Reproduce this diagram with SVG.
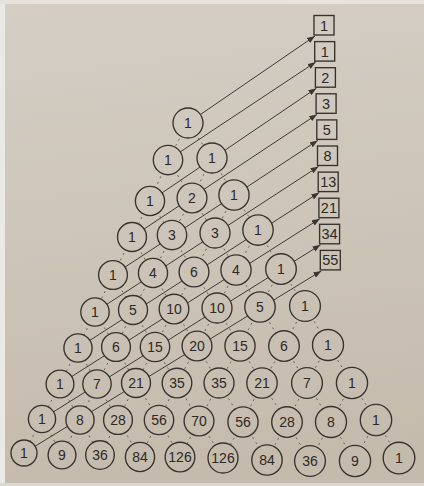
<svg xmlns="http://www.w3.org/2000/svg" width="424" height="486" viewBox="0 0 424 486">
<defs>
<linearGradient id="paper" gradientUnits="userSpaceOnUse" x1="0" y1="0" x2="60" y2="486">
<stop offset="0" stop-color="#d4cec5"/>
<stop offset="0.5" stop-color="#cdc5b9"/>
<stop offset="1" stop-color="#c5bbad"/>
</linearGradient>
<marker id="ah" markerUnits="userSpaceOnUse" markerWidth="9" markerHeight="6" refX="8" refY="3" orient="auto">
<path d="M0,0 L8,3 L0,6 z" fill="#3b3631"/>
</marker>
<style>
.c{fill:url(#paper);stroke:#37322d;stroke-width:1.35}
.b{fill:url(#paper);stroke:#37322d;stroke-width:1.35}
.t{font-family:"Liberation Sans",Arial,sans-serif;font-size:14px;fill:#2e2925;text-anchor:middle}
.s{font-size:14.5px}
.d{stroke:#645d54;stroke-width:0.95;stroke-dasharray:2 4;fill:none}
.a{stroke:#3f3a34;stroke-width:1;fill:none;marker-end:url(#ah)}
</style>
</defs>
<rect x="0" y="0" width="424" height="486" fill="url(#paper)"/>
<rect x="0" y="0" width="5" height="486" fill="#ebe9e5"/>
<rect x="0" y="0" width="424" height="4" fill="#e6e3de"/>
<rect x="0" y="483" width="424" height="3" fill="#dcd8d1"/>
<g id="connectors">
<g id="dashes">
<line class="d" x1="188" y1="123" x2="168" y2="160"/><line class="d" x1="188" y1="123" x2="212" y2="158"/>
<line class="d" x1="168" y1="160" x2="150" y2="201"/><line class="d" x1="168" y1="160" x2="192" y2="198"/>
<line class="d" x1="212" y1="158" x2="192" y2="198"/><line class="d" x1="212" y1="158" x2="234" y2="195"/>
<line class="d" x1="150" y1="201" x2="132" y2="237"/><line class="d" x1="150" y1="201" x2="172" y2="235"/>
<line class="d" x1="192" y1="198" x2="172" y2="235"/><line class="d" x1="192" y1="198" x2="215" y2="233"/>
<line class="d" x1="234" y1="195" x2="215" y2="233"/><line class="d" x1="234" y1="195" x2="258" y2="230"/>
<line class="d" x1="132" y1="237" x2="113" y2="275"/><line class="d" x1="132" y1="237" x2="153" y2="273"/>
<line class="d" x1="172" y1="235" x2="153" y2="273"/><line class="d" x1="172" y1="235" x2="194" y2="272"/>
<line class="d" x1="215" y1="233" x2="194" y2="272"/><line class="d" x1="215" y1="233" x2="236" y2="270"/>
<line class="d" x1="258" y1="230" x2="236" y2="270"/><line class="d" x1="258" y1="230" x2="281" y2="269"/>
<line class="d" x1="113" y1="275" x2="95" y2="312"/><line class="d" x1="113" y1="275" x2="133" y2="310"/>
<line class="d" x1="153" y1="273" x2="133" y2="310"/><line class="d" x1="153" y1="273" x2="174" y2="309"/>
<line class="d" x1="194" y1="272" x2="174" y2="309"/><line class="d" x1="194" y1="272" x2="217" y2="308"/>
<line class="d" x1="236" y1="270" x2="217" y2="308"/><line class="d" x1="236" y1="270" x2="260" y2="307"/>
<line class="d" x1="281" y1="269" x2="260" y2="307"/><line class="d" x1="281" y1="269" x2="305" y2="306"/>
<line class="d" x1="95" y1="312" x2="78" y2="348"/><line class="d" x1="95" y1="312" x2="116" y2="347"/>
<line class="d" x1="133" y1="310" x2="116" y2="347"/><line class="d" x1="133" y1="310" x2="155" y2="347"/>
<line class="d" x1="174" y1="309" x2="155" y2="347"/><line class="d" x1="174" y1="309" x2="197" y2="346"/>
<line class="d" x1="217" y1="308" x2="197" y2="346"/><line class="d" x1="217" y1="308" x2="240" y2="346"/>
<line class="d" x1="260" y1="307" x2="240" y2="346"/><line class="d" x1="260" y1="307" x2="284" y2="346"/>
<line class="d" x1="305" y1="306" x2="284" y2="346"/><line class="d" x1="305" y1="306" x2="328" y2="345"/>
<line class="d" x1="78" y1="348" x2="60" y2="384"/><line class="d" x1="78" y1="348" x2="97" y2="384"/>
<line class="d" x1="116" y1="347" x2="97" y2="384"/><line class="d" x1="116" y1="347" x2="136" y2="383"/>
<line class="d" x1="155" y1="347" x2="136" y2="383"/><line class="d" x1="155" y1="347" x2="177" y2="383"/>
<line class="d" x1="197" y1="346" x2="177" y2="383"/><line class="d" x1="197" y1="346" x2="219" y2="383"/>
<line class="d" x1="240" y1="346" x2="219" y2="383"/><line class="d" x1="240" y1="346" x2="262" y2="383"/>
<line class="d" x1="284" y1="346" x2="262" y2="383"/><line class="d" x1="284" y1="346" x2="307" y2="383"/>
<line class="d" x1="328" y1="345" x2="307" y2="383"/><line class="d" x1="328" y1="345" x2="352" y2="383"/>
<line class="d" x1="60" y1="384" x2="42" y2="419"/><line class="d" x1="60" y1="384" x2="80" y2="420"/>
<line class="d" x1="97" y1="384" x2="80" y2="420"/><line class="d" x1="97" y1="384" x2="118" y2="420"/>
<line class="d" x1="136" y1="383" x2="118" y2="420"/><line class="d" x1="136" y1="383" x2="159" y2="420"/>
<line class="d" x1="177" y1="383" x2="159" y2="420"/><line class="d" x1="177" y1="383" x2="199" y2="421"/>
<line class="d" x1="219" y1="383" x2="199" y2="421"/><line class="d" x1="219" y1="383" x2="243" y2="422"/>
<line class="d" x1="262" y1="383" x2="243" y2="422"/><line class="d" x1="262" y1="383" x2="287" y2="422"/>
<line class="d" x1="307" y1="383" x2="287" y2="422"/><line class="d" x1="307" y1="383" x2="331" y2="422"/>
<line class="d" x1="352" y1="383" x2="331" y2="422"/><line class="d" x1="352" y1="383" x2="376" y2="420"/>
<line class="d" x1="42" y1="419" x2="24" y2="453"/><line class="d" x1="42" y1="419" x2="62" y2="455"/>
<line class="d" x1="80" y1="420" x2="62" y2="455"/><line class="d" x1="80" y1="420" x2="100" y2="455"/>
<line class="d" x1="118" y1="420" x2="100" y2="455"/><line class="d" x1="118" y1="420" x2="140" y2="457"/>
<line class="d" x1="159" y1="420" x2="140" y2="457"/><line class="d" x1="159" y1="420" x2="180" y2="457"/>
<line class="d" x1="199" y1="421" x2="180" y2="457"/><line class="d" x1="199" y1="421" x2="223" y2="458"/>
<line class="d" x1="243" y1="422" x2="223" y2="458"/><line class="d" x1="243" y1="422" x2="267" y2="460"/>
<line class="d" x1="287" y1="422" x2="267" y2="460"/><line class="d" x1="287" y1="422" x2="310" y2="461"/>
<line class="d" x1="331" y1="422" x2="310" y2="461"/><line class="d" x1="331" y1="422" x2="355" y2="461"/>
<line class="d" x1="376" y1="420" x2="355" y2="461"/><line class="d" x1="376" y1="420" x2="399" y2="458"/>
</g>
<g id="diagonals">
<line class="a" x1="188" y1="123" x2="315" y2="36"/>
<line class="a" x1="168" y1="160" x2="315.7" y2="62.1"/>
<line class="a" x1="150" y1="201" x2="316.4" y2="88.2"/>
<line class="a" x1="132" y1="237" x2="317.1" y2="114.3"/>
<line class="a" x1="113" y1="275" x2="317.8" y2="140.4"/>
<line class="a" x1="95" y1="312" x2="318.5" y2="166.5"/>
<line class="a" x1="78" y1="348" x2="319.2" y2="192.6"/>
<line class="a" x1="60" y1="384" x2="319.9" y2="218.7"/>
<line class="a" x1="42" y1="419" x2="320.6" y2="244.8"/>
<line class="a" x1="24" y1="453" x2="321.3" y2="270.9"/>
</g>
</g>
<g id="triangle">
<g id="n0-0"><circle class="c" cx="188" cy="123" r="15"/><text class="t" x="188" y="128">1</text></g>
<g id="n1-0"><circle class="c" cx="168" cy="160" r="14.7"/><text class="t" x="168" y="165">1</text></g>
<g id="n1-1"><circle class="c" cx="212" cy="158" r="15"/><text class="t" x="212" y="163">1</text></g>
<g id="n2-0"><circle class="c" cx="150" cy="201" r="14.6"/><text class="t" x="150" y="206">1</text></g>
<g id="n2-1"><circle class="c" cx="192" cy="198" r="14.9"/><text class="t" x="192" y="203">2</text></g>
<g id="n2-2"><circle class="c" cx="234" cy="195" r="15.1"/><text class="t" x="234" y="200">1</text></g>
<g id="n3-0"><circle class="c" cx="132" cy="237" r="14.5"/><text class="t" x="132" y="242">1</text></g>
<g id="n3-1"><circle class="c" cx="172" cy="235" r="14.7"/><text class="t" x="172" y="240">3</text></g>
<g id="n3-2"><circle class="c" cx="215" cy="233" r="15"/><text class="t" x="215" y="238">3</text></g>
<g id="n3-3"><circle class="c" cx="258" cy="230" r="15.2"/><text class="t" x="258" y="235">1</text></g>
<g id="n4-0"><circle class="c" cx="113" cy="275" r="14.4"/><text class="t" x="113" y="280">1</text></g>
<g id="n4-1"><circle class="c" cx="153" cy="273" r="14.6"/><text class="t" x="153" y="278">4</text></g>
<g id="n4-2"><circle class="c" cx="194" cy="272" r="14.9"/><text class="t" x="194" y="277">6</text></g>
<g id="n4-3"><circle class="c" cx="236" cy="270" r="15.1"/><text class="t" x="236" y="275">4</text></g>
<g id="n4-4"><circle class="c" cx="281" cy="269" r="15.3"/><text class="t" x="281" y="274">1</text></g>
<g id="n5-0"><circle class="c" cx="95" cy="312" r="14.2"/><text class="t" x="95" y="317">1</text></g>
<g id="n5-1"><circle class="c" cx="133" cy="310" r="14.5"/><text class="t" x="133" y="315">5</text></g>
<g id="n5-2"><circle class="c" cx="174" cy="309" r="14.8"/><text class="t" x="174" y="314">10</text></g>
<g id="n5-3"><circle class="c" cx="217" cy="308" r="15"/><text class="t" x="217" y="313">10</text></g>
<g id="n5-4"><circle class="c" cx="260" cy="307" r="15.2"/><text class="t" x="260" y="312">5</text></g>
<g id="n5-5"><circle class="c" cx="305" cy="306" r="15.4"/><text class="t" x="305" y="311">1</text></g>
<g id="n6-0"><circle class="c" cx="78" cy="348" r="14.1"/><text class="t" x="78" y="353">1</text></g>
<g id="n6-1"><circle class="c" cx="116" cy="347" r="14.4"/><text class="t" x="116" y="352">6</text></g>
<g id="n6-2"><circle class="c" cx="155" cy="347" r="14.7"/><text class="t" x="155" y="352">15</text></g>
<g id="n6-3"><circle class="c" cx="197" cy="346" r="14.9"/><text class="t" x="197" y="351">20</text></g>
<g id="n6-4"><circle class="c" cx="240" cy="346" r="15.1"/><text class="t" x="240" y="351">15</text></g>
<g id="n6-5"><circle class="c" cx="284" cy="346" r="15.3"/><text class="t" x="284" y="351">6</text></g>
<g id="n6-6"><circle class="c" cx="328" cy="345" r="15.5"/><text class="t" x="328" y="350">1</text></g>
<g id="n7-0"><circle class="c" cx="60" cy="384" r="13.9"/><text class="t" x="60" y="389">1</text></g>
<g id="n7-1"><circle class="c" cx="97" cy="384" r="14.2"/><text class="t" x="97" y="389">7</text></g>
<g id="n7-2"><circle class="c" cx="136" cy="383" r="14.5"/><text class="t" x="136" y="388">21</text></g>
<g id="n7-3"><circle class="c" cx="177" cy="383" r="14.8"/><text class="t" x="177" y="388">35</text></g>
<g id="n7-4"><circle class="c" cx="219" cy="383" r="15"/><text class="t" x="219" y="388">35</text></g>
<g id="n7-5"><circle class="c" cx="262" cy="383" r="15.2"/><text class="t" x="262" y="388">21</text></g>
<g id="n7-6"><circle class="c" cx="307" cy="383" r="15.4"/><text class="t" x="307" y="388">7</text></g>
<g id="n7-7"><circle class="c" cx="352" cy="383" r="15.6"/><text class="t" x="352" y="388">1</text></g>
<g id="n8-0"><circle class="c" cx="42" cy="419" r="13.6"/><text class="t" x="42" y="424">1</text></g>
<g id="n8-1"><circle class="c" cx="80" cy="420" r="14.1"/><text class="t" x="80" y="425">8</text></g>
<g id="n8-2"><circle class="c" cx="118" cy="420" r="14.4"/><text class="t" x="118" y="425">28</text></g>
<g id="n8-3"><circle class="c" cx="159" cy="420" r="14.7"/><text class="t" x="159" y="425">56</text></g>
<g id="n8-4"><circle class="c" cx="199" cy="421" r="14.9"/><text class="t" x="199" y="426">70</text></g>
<g id="n8-5"><circle class="c" cx="243" cy="422" r="15.1"/><text class="t" x="243" y="427">56</text></g>
<g id="n8-6"><circle class="c" cx="287" cy="422" r="15.3"/><text class="t" x="287" y="427">28</text></g>
<g id="n8-7"><circle class="c" cx="331" cy="422" r="15.5"/><text class="t" x="331" y="427">8</text></g>
<g id="n8-8"><circle class="c" cx="376" cy="420" r="15.7"/><text class="t" x="376" y="425">1</text></g>
<g id="n9-0"><circle class="c" cx="24" cy="453" r="13"/><text class="t" x="24" y="458">1</text></g>
<g id="n9-1"><circle class="c" cx="62" cy="455" r="13.9"/><text class="t" x="62" y="460">9</text></g>
<g id="n9-2"><circle class="c" cx="100" cy="455" r="14.3"/><text class="t" x="100" y="460">36</text></g>
<g id="n9-3"><circle class="c" cx="140" cy="457" r="14.6"/><text class="t" x="140" y="462">84</text></g>
<g id="n9-4"><circle class="c" cx="180" cy="457" r="14.8"/><text class="t" x="180" y="462">126</text></g>
<g id="n9-5"><circle class="c" cx="223" cy="458" r="15"/><text class="t" x="223" y="463">126</text></g>
<g id="n9-6"><circle class="c" cx="267" cy="460" r="15.2"/><text class="t" x="267" y="465">84</text></g>
<g id="n9-7"><circle class="c" cx="310" cy="461" r="15.4"/><text class="t" x="310" y="466">36</text></g>
<g id="n9-8"><circle class="c" cx="355" cy="461" r="15.6"/><text class="t" x="355" y="466">9</text></g>
<g id="n9-9"><circle class="c" cx="399" cy="458" r="15.8"/><text class="t" x="399" y="463">1</text></g>
</g>
<g id="sums">
<g id="f1"><rect class="b" x="314" y="15.5" width="20" height="19.5"/><text class="t s" x="324" y="30.5">1</text></g>
<g id="f2"><rect class="b" x="314.7" y="41.6" width="20" height="19.5"/><text class="t s" x="324.7" y="56.6">1</text></g>
<g id="f3"><rect class="b" x="315.4" y="67.7" width="20" height="19.5"/><text class="t s" x="325.4" y="82.7">2</text></g>
<g id="f4"><rect class="b" x="316.1" y="93.8" width="20" height="19.5"/><text class="t s" x="326.1" y="108.8">3</text></g>
<g id="f5"><rect class="b" x="316.8" y="119.9" width="20" height="19.5"/><text class="t s" x="326.8" y="134.9">5</text></g>
<g id="f6"><rect class="b" x="317.5" y="146" width="20" height="19.5"/><text class="t s" x="327.5" y="161">8</text></g>
<g id="f7"><rect class="b" x="318.2" y="172.1" width="20" height="19.5"/><text class="t s" x="328.2" y="187.1">13</text></g>
<g id="f8"><rect class="b" x="318.9" y="198.2" width="20" height="19.5"/><text class="t s" x="328.9" y="213.2">21</text></g>
<g id="f9"><rect class="b" x="319.6" y="224.3" width="20" height="19.5"/><text class="t s" x="329.6" y="239.3">34</text></g>
<g id="f10"><rect class="b" x="320.3" y="250.4" width="20" height="19.5"/><text class="t s" x="330.3" y="265.4">55</text></g>
</g>
</svg>
